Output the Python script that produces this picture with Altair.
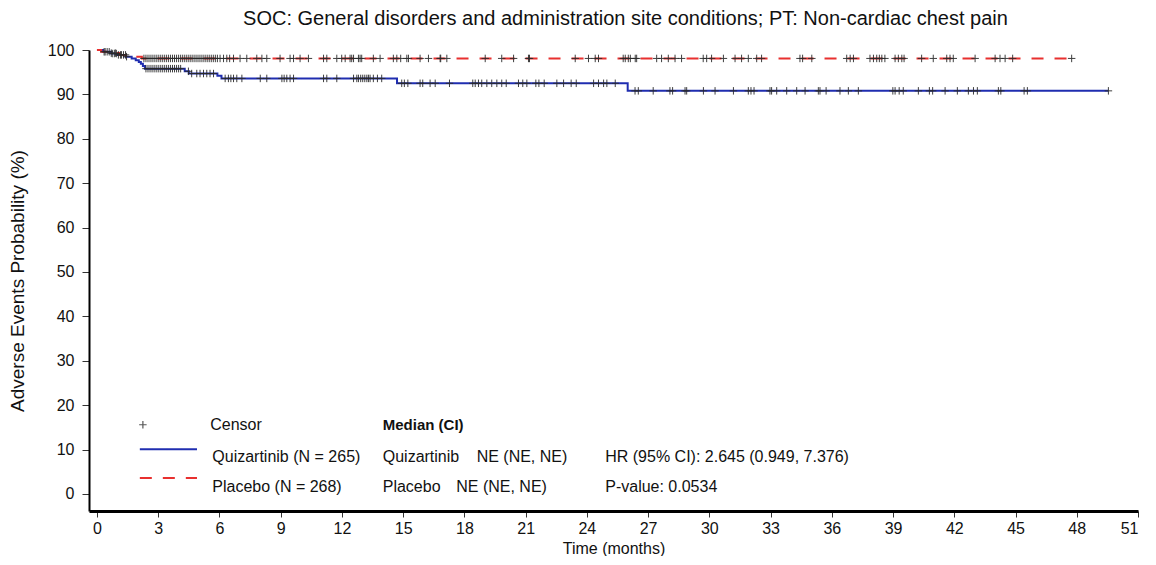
import altair as alt
import pandas as pd
import numpy as np

# Kaplan-Meier step curves (time in months, probability in %)
quiz_t = [0, 0.3, 0.7, 1.0, 1.4, 1.7, 1.9, 2.05, 2.15, 2.25, 2.35, 4.3, 4.5, 5.9, 6.1, 14.7, 26.0, 49.55]
quiz_s = [100, 99.6, 99.2, 98.9, 98.5, 98.1, 97.7, 97.3, 96.9, 96.4, 95.8, 95.2, 94.7, 94.2, 93.6, 92.5, 90.8, 90.8]
plac_t = [0, 0.2, 0.6, 1.1, 1.6, 2.2, 47.75]
plac_s = [100, 99.6, 99.3, 98.9, 98.5, 98.1, 98.1]

# Censor times (months)
quiz_censor = [0.35, 0.5, 0.6, 0.75, 0.85, 0.95, 1.05, 1.15, 1.3, 1.45,
               2.4, 2.5, 2.6, 2.7, 2.8, 2.9, 3.0, 3.1, 3.2, 3.3, 3.4, 3.5, 3.6, 3.7, 3.8, 3.9, 4.0, 4.1,
               4.48, 4.64, 4.89, 5.05, 5.22, 5.38, 5.54, 5.71, 6.28, 6.44, 6.56, 6.69, 6.85, 7.1,
               8.0, 8.32, 9.06, 9.17, 9.3, 9.46, 9.63, 11.1, 11.26, 11.75, 12.57, 12.73,
               12.81, 12.92, 13.02, 13.12, 13.22, 13.30, 13.38, 13.54, 13.74, 13.95,
               14.93, 15.06, 15.23, 15.83, 15.96, 16.32, 16.57, 17.27, 18.41, 18.53, 18.69, 18.85,
               19.1, 19.34, 19.59, 19.83, 20.05, 20.65, 20.86, 21.06, 21.5, 21.65, 21.91, 22.53,
               22.86, 23.23, 23.48, 24.33, 24.57, 24.82, 24.98, 25.39,
               26.36, 26.52, 27.25, 28.07, 28.2, 28.81, 28.89, 29.71, 30.28, 31.18, 31.91, 32.04,
               32.19, 32.97, 33.05, 33.3, 33.79, 34.28, 34.69, 35.34, 35.42, 35.72, 36.4, 36.81,
               37.3, 38.99, 39.1, 39.3, 39.5, 40.24, 40.78, 40.94, 41.55, 42.15, 42.69, 42.94,
               43.13, 44.16, 44.28, 45.42, 45.58, 49.55]
plac_censor = [0.4, 0.7, 0.9, 1.2, 1.4,
               2.3, 2.4, 2.5, 2.6, 2.7, 2.8, 2.9, 3.0, 3.1, 3.2, 3.3, 3.4, 3.5, 3.6, 3.7, 3.8, 3.9,
               4.0, 4.1, 4.2, 4.3, 4.4, 4.5, 4.6, 4.7, 4.8, 4.9, 5.0, 5.1, 5.2, 5.3, 5.4, 5.5, 5.6,
               5.7, 5.8, 5.9,
               6.03, 6.2, 6.36, 6.5, 6.69, 7.01, 7.34, 7.83, 8.08, 8.32, 8.97, 9.46, 9.63, 9.95,
               10.36, 11.1, 11.26, 11.75, 11.99, 12.16, 12.4, 12.48, 12.57, 12.81, 12.89, 12.97,
               13.54, 13.87, 14.52, 14.69, 14.88, 15.18, 15.26, 15.83, 16.24, 16.81, 16.84, 17.14,
               19.02, 19.83, 20.41, 21.14, 21.19, 23.43, 24.08, 24.41, 24.57, 25.78, 25.88, 26.03,
               26.13, 26.37, 26.44, 27.42, 27.66, 27.99, 28.32, 28.64, 29.7, 29.87, 30.11, 30.69,
               31.26, 31.58, 31.91, 32.32, 32.56, 34.44, 34.57, 35.02, 36.73, 36.9, 37.06, 37.87,
               38.04, 38.2, 38.33, 38.45, 38.6, 39.1, 39.26, 39.43, 39.54, 40.4, 40.97, 41.63,
               41.79, 41.95, 43.02, 44.0, 44.24, 44.49, 44.86, 47.75]

arms = ["Quizartinib", "Placebo"]
colors = ["#1F2DB0", "#E8302F"]
x_ticks = list(range(0, 52, 3))
y_ticks = list(range(0, 101, 10))

title_text = "SOC: General disorders and administration site conditions; PT: Non-cardiac chest pain"
FONT = "Liberation Sans"


def step_value(times, surv, c):
    idx = np.searchsorted(np.array(times), np.array(c), side="right") - 1
    return [surv[i] for i in idx]


curve_df = pd.concat([
    pd.DataFrame({"t": quiz_t, "s": quiz_s, "arm": "Quizartinib"}),
    pd.DataFrame({"t": plac_t, "s": plac_s, "arm": "Placebo"}),
])
cens_df = pd.concat([
    pd.DataFrame({"t": quiz_censor, "s": step_value(quiz_t, quiz_s, quiz_censor), "arm": "Quizartinib"}),
    pd.DataFrame({"t": plac_censor, "s": step_value(plac_t, plac_s, plac_censor), "arm": "Placebo"}),
])

xscale = alt.Scale(domain=[-0.39, 51], nice=False, zero=False)
yscale = alt.Scale(domain=[-3.83, 100], nice=False, zero=False)
color_scale = alt.Scale(domain=arms, range=colors)
dash_scale = alt.Scale(domain=arms, range=[[1, 0], [12, 11]])

x_enc = alt.X("t:Q", scale=xscale,
              axis=alt.Axis(title="Time (months)", values=x_ticks, domainWidth=3,
                            tickSize=6, labelPadding=3, titlePadding=4, titleFontSize=16))
y_enc = alt.Y("s:Q", scale=yscale,
              axis=alt.Axis(title="Adverse Events Probability (%)", values=y_ticks,
                            domainWidth=2, tickSize=7, labelPadding=8, titlePadding=20,
                            titleFontSize=19))

lines = alt.Chart(curve_df).mark_line(interpolate="step-after", strokeWidth=2).encode(
    x=x_enc, y=y_enc,
    color=alt.Color("arm:N", scale=color_scale, legend=None),
    strokeDash=alt.StrokeDash("arm:N", scale=dash_scale, legend=None),
)

PLUS = "M-1,0L1,0M0,-1L0,1"
censors = alt.Chart(cens_df).mark_point(shape=PLUS, size=56, filled=False, color="#2a2a2a",
                                        strokeWidth=1, opacity=0.9).encode(
    x="t:Q", y="s:Q")

# Inset legend / statistics block
leg_line_df = pd.DataFrame({"x1": [2.1, 2.1], "x2": [4.9, 4.9], "y": [10.1, 3.6], "arm": arms})
leg_lines = alt.Chart(leg_line_df).mark_rule(strokeWidth=2).encode(
    x="x1:Q", x2="x2:Q", y="y:Q",
    color=alt.Color("arm:N", scale=color_scale, legend=None),
    strokeDash=alt.StrokeDash("arm:N", scale=dash_scale, legend=None),
)
leg_plus = alt.Chart(pd.DataFrame({"x": [2.25], "y": [15.6]})).mark_point(
    shape=PLUS, size=56, filled=False, color="#111", strokeWidth=1.2).encode(x="x:Q", y="y:Q")

text_df = pd.DataFrame({
    "x": [5.55, 5.65, 5.65, 14.0, 14.0, 18.6, 14.0, 17.6, 24.9, 24.9],
    "y": [15.5, 8.3, 1.6, 15.5, 8.3, 8.3, 1.6, 1.6, 8.3, 1.6],
    "label": ["Censor", "Quizartinib (N = 265)", "Placebo (N = 268)", "Median (CI)",
              "Quizartinib", "NE (NE, NE)", "Placebo", "NE (NE, NE)",
              "HR (95% CI): 2.645 (0.949, 7.376)", "P-value: 0.0534"],
    "bold": [False, False, False, True, False, False, False, False, False, False],
})
texts = alt.Chart(text_df[~text_df["bold"]]).mark_text(
    align="left", baseline="middle", font=FONT, fontSize=16, color="#111").encode(
    x="x:Q", y="y:Q", text="label:N")
texts_bold = alt.Chart(text_df[text_df["bold"]]).mark_text(
    align="left", baseline="middle", font=FONT, fontSize=15, fontWeight="bold", color="#111").encode(
    x="x:Q", y="y:Q", text="label:N")

chart = alt.layer(lines, censors, leg_lines, leg_plus, texts, texts_bold).properties(
    width=1049, height=461,
    padding={"left": 0, "right": 5, "top": 1, "bottom": 0},
    title=alt.TitleParams(title_text, font=FONT, fontSize=20, fontWeight="normal",
                          color="#111", anchor="middle", offset=13, dx=12),
).configure_view(stroke=None).configure_axis(
    grid=False, domainColor="#000", tickColor="#333", labelColor="#111", titleColor="#111",
    labelFont=FONT, titleFont=FONT, labelFontSize=16, titleFontWeight="normal",
)

chart.save("out.html", embed_options={"renderer": "svg", "actions": False})
